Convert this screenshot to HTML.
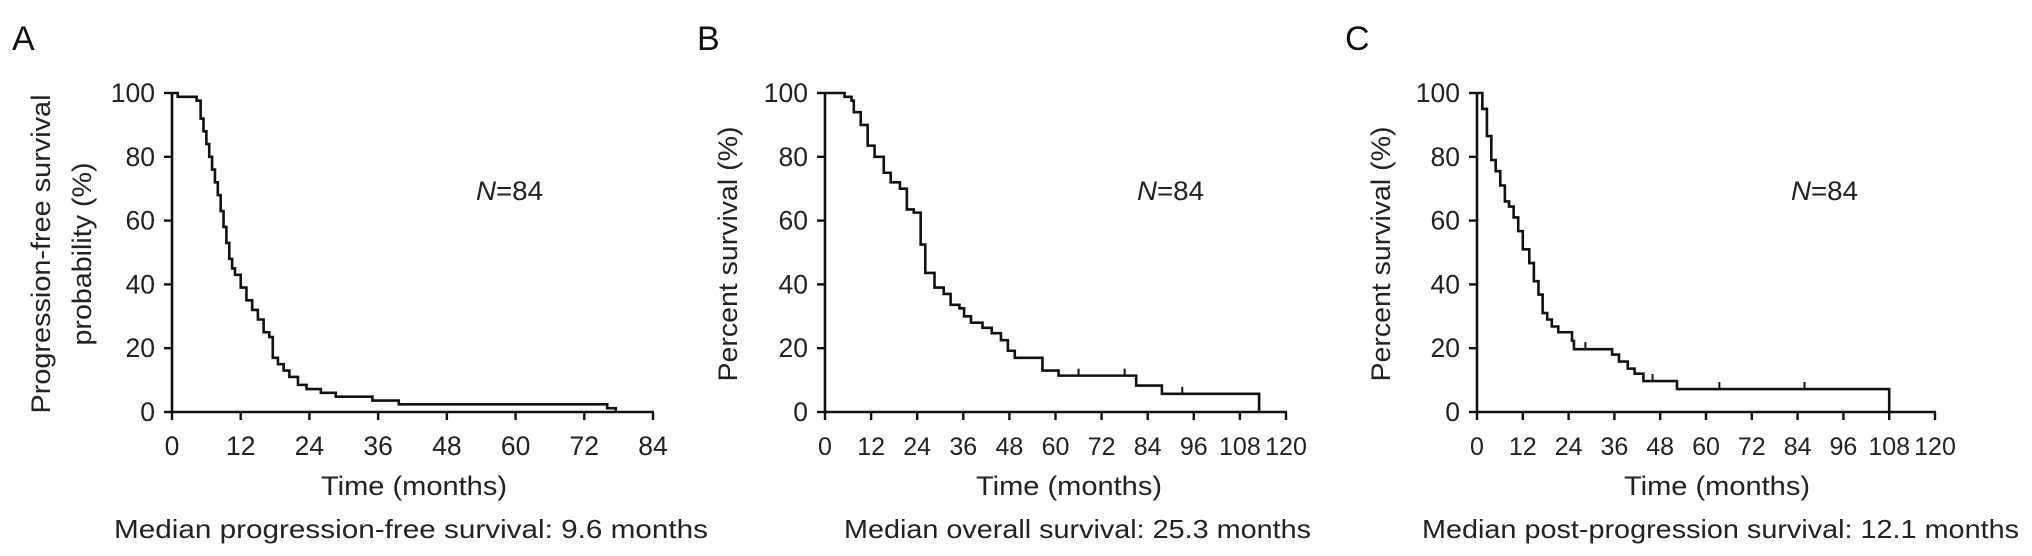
<!DOCTYPE html>
<html><head><meta charset="utf-8"><style>
html,body{margin:0;padding:0;background:#fff;}
svg{display:block;font-family:"Liberation Sans",Arial,sans-serif;}
</style></head><body>
<svg id="fig" width="2032" height="556" viewBox="0 0 2032 556"></svg>
<script>
// Panel A: progression-free survival
const aTimes=[0,1,4.3,5,5.5,6,6.5,7,7.5,8,8.5,9,9.5,10,10.5,11,12,13,14,15,16,17,17.6,18.5,19.5,20.5,22,23.5,26,28.6,35,39.6,76,77.5];
const aValues=[100,98.8,97.6,92,88,84,80,76,72,68,63,58,53,48,45,43,39,35,32,29,25,23.5,17,15,13,11,8.5,7.2,6,4.8,3.6,2.4,1.2,0];
const aCensor=[];
const aXTicks=[0,12,24,36,48,60,72,84];
// Panel B: overall survival
const bTimes=[0,5.1,6.9,7.5,9.3,11.1,12.9,15.3,17.1,19.5,21.3,23.1,24.9,26.1,28.5,30.9,32.7,35,36.2,38,41,43.4,45.8,47.6,49.4,56.6,60.8,81,87.7,113];
const bValues=[100,98.8,97.6,94,90,83.5,80,75,72,70,63.5,62.5,52.5,43.6,39,37,33.6,32.5,30,28,26.4,24.7,22.5,19.2,17,13,11.4,8.3,5.7,0];
const bCensor=[66,78,93];
const bXTicks=[0,12,24,36,48,60,72,84,96,108,120];
// Panel C: post-progression survival
const cTimes=[0,1.4,2.6,3.75,4.9,6.1,7.3,8.4,9.6,10.8,12,13.7,14.9,16.1,17.2,18.4,19.6,21.3,24.9,25.4,35.4,37.2,39.5,41.3,43.6,52.4,108];
const cValues=[100,95,86.5,79,75.5,71,66,64.4,61,56.7,51,46.7,41,36.8,31,29,26.8,25,22.3,19.7,18,15.8,13.6,12,9.7,7.2,0];
const cCensor=[28.4,46,63.5,85.8];
const cXTicks=[0,12,24,36,48,60,72,84,96,108,120];
const yTicks=[0,20,40,60,80,100];

const NS="http://www.w3.org/2000/svg";
const svg=document.getElementById('fig');
function mk(tag,attrs,parent){const e=document.createElementNS(NS,tag);for(const k in attrs)e.setAttribute(k,attrs[k]);(parent||svg).appendChild(e);return e;}
function txt(s,attrs,parent){const e=mk('text',attrs,parent);e.textContent=s;return e;}

function panel(o){
  const g=mk('g',{});
  
  
  const x=v=>o.x0+(v-0)*(o.x1-o.x0)/o.xmax;
  const y=v=>o.y0-(v)*(o.y0-o.y100)/100;
  const ax=mk('path',{d:`M${x(0)},${o.y100-1}V${o.y0}H${o.x1+1}`,fill:'none',stroke:'#111','stroke-width':2.6},g);
  
  
  yTicks.forEach(v=>{
    const t=mk('line',{x1:x(0)-8,x2:x(0),y1:y(v),y2:y(v),stroke:'#111','stroke-width':2.4},g);
    
    
    const l=txt(String(v),{x:x(0)-17,y:y(v)+9,'font-size':26.5,'text-anchor':'end',fill:'#222'},g);
    
    
  });
  o.xticks.forEach(v=>{
    const t=mk('line',{x1:x(v),x2:x(v),y1:o.y0,y2:o.y0+8,stroke:'#111','stroke-width':2.4},g);
    
    
    const l=txt(String(v),{x:x(v),y:o.y0+43,'font-size':o.xfs,'text-anchor':'middle',fill:'#222'},g);
    
    
  });
  let d=`M${x(o.t[0])},${y(o.v[0])}`;
  for(let i=1;i<o.t.length;i++){d+=`H${x(o.t[i])}V${y(o.v[i])}`;}
  const c=mk('path',{d:d,fill:'none',stroke:'#111','stroke-width':2.6,'stroke-linejoin':'miter'},g);
  
  
  o.cens.forEach(tc=>{
    let sv=o.v[0];
    for(let i=0;i<o.t.length;i++){if(o.t[i]<=tc)sv=o.v[i];}
    const m=mk('line',{x1:x(tc),x2:x(tc),y1:y(sv),y2:y(sv)-7,stroke:'#111','stroke-width':2},g);
    
    
  });
  const L=txt(o.letter,{x:o.lx,y:50,'font-size':34,fill:'#111'},g);
  
  
  const n=mk('text',{x:o.nx,y:200,'font-size':27,fill:'#222',textLength:67,lengthAdjust:'spacingAndGlyphs'},g);
  
  
  n.innerHTML='<tspan font-style="italic">N</tspan>=84';
  const xt=txt('Time (months)',{x:o.tx-93,y:495,'font-size':27,fill:'#222',textLength:186,lengthAdjust:'spacingAndGlyphs'},g);
  
  
  const md=txt(o.median,{x:o.mx,y:538,'font-size':26,fill:'#222',textLength:o.mw,lengthAdjust:'spacingAndGlyphs'},g);
  
  
  o.ytitle.forEach(s=>{
    const yt=txt(s[0],{x:-s[2]/2,y:0,'font-size':27,fill:'#222',textLength:s[2],lengthAdjust:'spacingAndGlyphs',transform:`translate(${s[1]},254) rotate(-90)`},g);
    
    
  });
}
panel({name:'panel-a',letter:'A',lx:12,x0:172,x1:653,xmax:84,y0:412,y100:93,xfs:26.5,xticks:aXTicks,t:aTimes,v:aValues,cens:aCensor,
  nx:476,tx:414,median:'Median progression-free survival: 9.6 months',mx:114,mw:594,
  ytitle:[['Progression-free survival',50,319],['probability (%)',91,183]]});
panel({name:'panel-b',letter:'B',lx:697,x0:825,x1:1286,xmax:120,y0:412,y100:93,xfs:25,xticks:bXTicks,t:bTimes,v:bValues,cens:bCensor,
  nx:1137,tx:1069,median:'Median overall survival: 25.3 months',mx:844,mw:467,
  ytitle:[['Percent survival (%)',737,255]]});
panel({name:'panel-c',letter:'C',lx:1345,x0:1477,x1:1935,xmax:120,y0:412,y100:93,xfs:25,xticks:cXTicks,t:cTimes,v:cValues,cens:cCensor,
  nx:1791,tx:1717,median:'Median post-progression survival: 12.1 months',mx:1422,mw:597,
  ytitle:[['Percent survival (%)',1390,255]]});
</script>
</body></html>
